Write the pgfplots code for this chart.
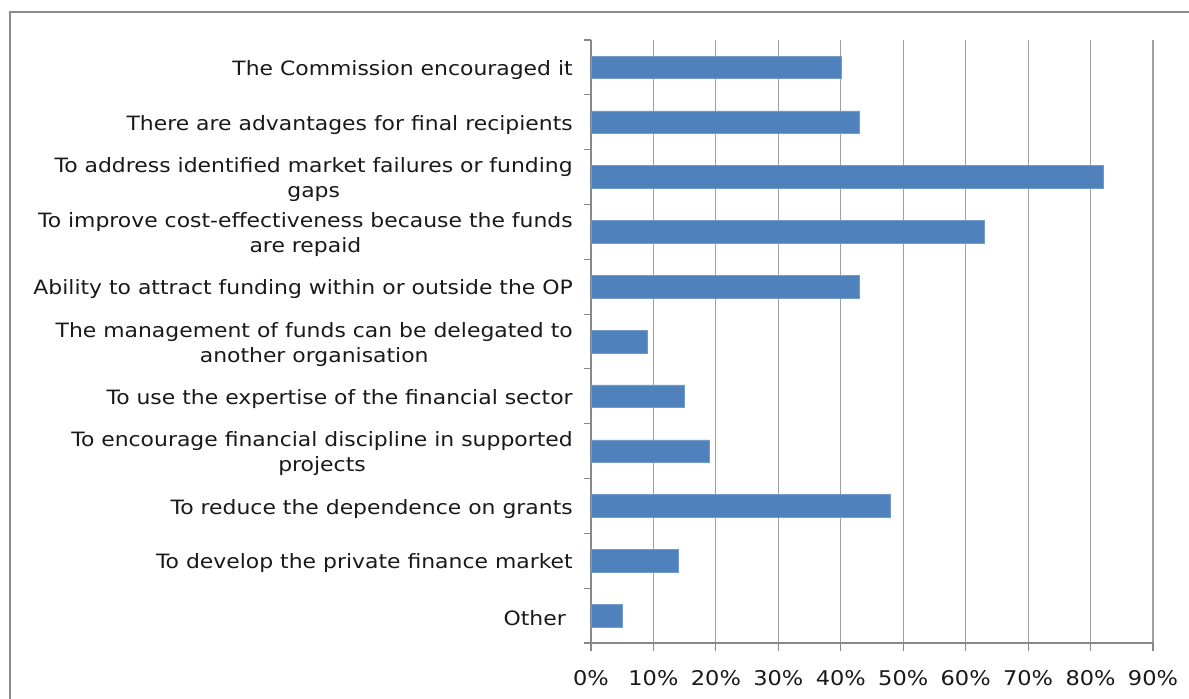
\documentclass[border=0pt]{standalone}
\usepackage{pgfplots}
\pgfplotsset{compat=1.18}
\usepackage{fontspec}
\setmainfont{DejaVu Sans}[FakeStretch=1.11]
\definecolor{barblue}{HTML}{4F81BD}
\definecolor{gridgray}{HTML}{A0A0A0}
\definecolor{axgray}{HTML}{888888}
\definecolor{framegray}{HTML}{8C8C8C}
\begin{document}
\begin{tikzpicture}
\useasboundingbox (0,0) rectangle (891.75pt,-524.25pt);
\draw[framegray, line width=1.5pt] (7.5pt,-524.25pt) -- (7.5pt,-9pt) -- (891.75pt,-9pt);
\begin{axis}[
  at={(443.25pt,-482.25pt)}, anchor=south west,
  scale only axis,
  width=421.5pt, height=452.25pt,
  xbar, bar width=17pt,
  xmin=0, xmax=90,
  ymin=-0.5, ymax=10.5,
  y dir=reverse,
  axis x line*=bottom, axis y line*=left,
  axis line style={axgray, line width=0.8pt},
  xtick={0,10,...,90},
  xticklabels={0\%,10\%,20\%,30\%,40\%,50\%,60\%,70\%,80\%,90\%},
  xmajorgrids, grid style={gridgray, line width=0.8pt},
  tick align=outside,
  major tick length=6pt,
  minor tick length=5pt,
  xtick style={axgray, line width=0.8pt},
  ytick={0,...,10},
  ytick style={axgray, line width=0.8pt},
  major y tick style={draw=none},
  minor ytick={-0.5,0.5,...,10.5},
  yticklabels={
    The Commission encouraged it,
    There are advantages for final recipients,
    To address identified market failures or funding\\gaps,
    To improve cost-effectiveness because the funds \\are repaid,
    Ability to attract funding within or outside the OP,
    The management of funds can be delegated to\\another organisation,
    To use the expertise of the financial sector,
    To encourage financial discipline in supported\\projects,
    To reduce the dependence on grants,
    To develop the private finance market,
    Other\ },
  yticklabel style={align=center, anchor=east, inner sep=0pt, xshift=-7.5pt, yshift=-2pt,
     font=\fontsize{14.8pt}{18.75pt}\selectfont, text=black!90},
  xticklabel style={font=\fontsize{15.2pt}{18.75pt}\selectfont, text=black!90, yshift=-11pt},
  /pgf/number format/assume math mode=true,
  clip=false,
]
\addplot[fill=barblue, draw=barblue!80!white, line width=0.4pt] coordinates {
  (40,0) (43,1) (82,2) (63,3) (43,4) (9,5) (15,6) (19,7) (48,8) (14,9) (5,10)
};
\end{axis}
\end{tikzpicture}
\end{document}
